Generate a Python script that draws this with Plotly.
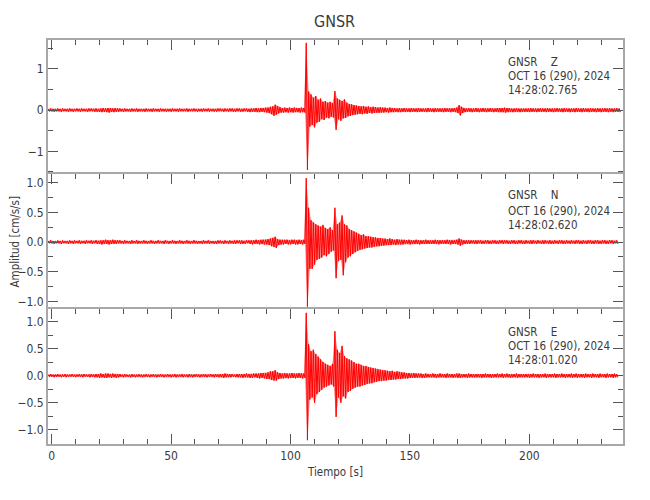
import plotly.graph_objects as go
from plotly.subplots import make_subplots

# ---------------- data ----------------
STATION = "GNSR"
COMPONENTS = ["Z", "N", "E"]
DATES = ["OCT 16 (290), 2024"] * 3
START_TIMES = ["14:28:02.765", "14:28:02.620", "14:28:01.020"]

# Waveform peaks: positive peak at T0 + k*DT, following trough half a step later (cm/s/s)
T0 = -1.4
DT = 1.0

z_hi = [
    0.03, 0.04, 0.03, 0.03, 0.04, 0.03, 0.04, 0.03, 0.03, 0.04,
    0.03, 0.03, 0.04, 0.03, 0.04, 0.03, 0.03, 0.04, 0.04, 0.03,
    0.04, 0.03, 0.04, 0.05, 0.04, 0.05, 0.05, 0.04, 0.05, 0.04,
    0.04, 0.03, 0.04, 0.03, 0.03, 0.04, 0.03, 0.04, 0.03, 0.03,
    0.03, 0.04, 0.03, 0.03, 0.04, 0.03, 0.03, 0.04, 0.03, 0.03,
    0.03, 0.03, 0.04, 0.03, 0.03, 0.04, 0.03, 0.03, 0.04, 0.03,
    0.03, 0.04, 0.03, 0.03, 0.03, 0.04, 0.03, 0.04, 0.03, 0.03,
    0.03, 0.04, 0.04, 0.03, 0.04, 0.03, 0.04, 0.04, 0.03, 0.04,
    0.04, 0.03, 0.04, 0.04, 0.03, 0.04, 0.04, 0.05, 0.04, 0.05,
    0.05, 0.06, 0.06, 0.08, 0.09, 0.13, 0.10, 0.07, 0.05, 0.06,
    0.05, 0.06, 0.05, 0.06, 0.05, 0.05, 0.06, 0.05, 1.63, 0.45,
    0.38, 0.30, 0.34, 0.25, 0.28, 0.20, 0.22, 0.18, 0.20, 0.17,
    0.46, 0.28, 0.25, 0.22, 0.26, 0.18, 0.15, 0.14, 0.12, 0.11,
    0.10, 0.09, 0.10, 0.08, 0.09, 0.07, 0.08, 0.07, 0.06, 0.07,
    0.06, 0.06, 0.05, 0.06, 0.05, 0.05, 0.04, 0.05, 0.04, 0.05,
    0.04, 0.04, 0.05, 0.04, 0.04, 0.05, 0.04, 0.04, 0.04, 0.05,
    0.04, 0.04, 0.05, 0.04, 0.04, 0.04, 0.05, 0.04, 0.04, 0.04,
    0.05, 0.06, 0.12, 0.08, 0.05, 0.04, 0.05, 0.04, 0.04, 0.05,
    0.04, 0.04, 0.05, 0.04, 0.04, 0.05, 0.04, 0.04, 0.05, 0.05,
    0.05, 0.06, 0.05, 0.05, 0.04, 0.04, 0.05, 0.04, 0.04, 0.04,
    0.04, 0.04, 0.05, 0.04, 0.04, 0.04, 0.05, 0.04, 0.04, 0.05,
    0.04, 0.04, 0.04, 0.05, 0.04, 0.04, 0.05, 0.04, 0.04, 0.04,
    0.04, 0.05, 0.04, 0.04, 0.05, 0.04, 0.04, 0.05, 0.04, 0.04,
    0.05, 0.04, 0.04, 0.05, 0.04, 0.05, 0.04, 0.04, 0.05, 0.04,
]
z_lo = [
    -0.03, -0.03, -0.04, -0.03, -0.03, -0.04, -0.03, -0.03, -0.04, -0.03,
    -0.04, -0.03, -0.03, -0.04, -0.03, -0.03, -0.04, -0.03, -0.03, -0.04,
    -0.04, -0.04, -0.05, -0.04, -0.05, -0.06, -0.04, -0.05, -0.04, -0.04,
    -0.03, -0.04, -0.03, -0.03, -0.04, -0.03, -0.03, -0.04, -0.03, -0.03,
    -0.04, -0.03, -0.03, -0.04, -0.03, -0.03, -0.04, -0.03, -0.03, -0.04,
    -0.03, -0.04, -0.03, -0.03, -0.04, -0.03, -0.03, -0.03, -0.04, -0.03,
    -0.03, -0.03, -0.04, -0.03, -0.04, -0.03, -0.03, -0.04, -0.03, -0.04,
    -0.04, -0.03, -0.03, -0.04, -0.03, -0.04, -0.03, -0.04, -0.04, -0.03,
    -0.04, -0.04, -0.03, -0.04, -0.05, -0.04, -0.04, -0.05, -0.05, -0.04,
    -0.05, -0.06, -0.07, -0.10, -0.14, -0.11, -0.08, -0.06, -0.06, -0.05,
    -0.06, -0.05, -0.06, -0.05, -0.05, -0.06, -0.05, -0.06, -1.45, -0.40,
    -0.36, -0.42, -0.30, -0.28, -0.22, -0.24, -0.18, -0.20, -0.16, -0.18,
    -0.48, -0.22, -0.26, -0.20, -0.19, -0.15, -0.14, -0.12, -0.11, -0.10,
    -0.09, -0.10, -0.08, -0.09, -0.07, -0.08, -0.07, -0.06, -0.07, -0.06,
    -0.06, -0.05, -0.06, -0.05, -0.05, -0.04, -0.05, -0.05, -0.04, -0.04,
    -0.04, -0.05, -0.04, -0.04, -0.05, -0.04, -0.04, -0.04, -0.05, -0.04,
    -0.04, -0.05, -0.04, -0.04, -0.04, -0.05, -0.04, -0.04, -0.05, -0.04,
    -0.05, -0.07, -0.13, -0.07, -0.05, -0.04, -0.04, -0.05, -0.04, -0.04,
    -0.05, -0.04, -0.04, -0.05, -0.04, -0.04, -0.05, -0.04, -0.05, -0.05,
    -0.05, -0.06, -0.05, -0.04, -0.05, -0.04, -0.04, -0.05, -0.04, -0.04,
    -0.04, -0.05, -0.04, -0.04, -0.05, -0.04, -0.04, -0.04, -0.05, -0.04,
    -0.04, -0.05, -0.04, -0.04, -0.04, -0.05, -0.04, -0.04, -0.05, -0.04,
    -0.05, -0.04, -0.04, -0.05, -0.04, -0.04, -0.05, -0.04, -0.04, -0.05,
    -0.04, -0.05, -0.04, -0.04, -0.05, -0.04, -0.05, -0.04, -0.04, -0.05,
]

n_hi = [
    0.02, 0.03, 0.02, 0.02, 0.03, 0.02, 0.03, 0.02, 0.02, 0.03,
    0.02, 0.03, 0.02, 0.03, 0.02, 0.02, 0.03, 0.02, 0.03, 0.02,
    0.03, 0.02, 0.03, 0.03, 0.04, 0.03, 0.03, 0.04, 0.03, 0.03,
    0.03, 0.02, 0.03, 0.02, 0.02, 0.03, 0.02, 0.03, 0.02, 0.02,
    0.03, 0.02, 0.02, 0.03, 0.02, 0.02, 0.03, 0.02, 0.02, 0.03,
    0.02, 0.02, 0.03, 0.02, 0.02, 0.03, 0.02, 0.02, 0.03, 0.02,
    0.02, 0.03, 0.02, 0.02, 0.02, 0.03, 0.02, 0.03, 0.02, 0.02,
    0.02, 0.03, 0.03, 0.02, 0.03, 0.02, 0.03, 0.02, 0.03, 0.03,
    0.03, 0.03, 0.02, 0.03, 0.03, 0.03, 0.03, 0.04, 0.03, 0.04,
    0.04, 0.04, 0.05, 0.06, 0.07, 0.09, 0.05, 0.04, 0.04, 0.04,
    0.04, 0.03, 0.04, 0.04, 0.03, 0.04, 0.03, 0.04, 1.08, 0.58,
    0.37, 0.33, 0.30, 0.28, 0.26, 0.29, 0.24, 0.22, 0.25, 0.20,
    0.58, 0.30, 0.33, 0.45, 0.30, 0.28, 0.22, 0.20, 0.18, 0.16,
    0.14, 0.12, 0.13, 0.10, 0.10, 0.09, 0.08, 0.08, 0.07, 0.07,
    0.06, 0.06, 0.05, 0.06, 0.05, 0.04, 0.05, 0.04, 0.04, 0.04,
    0.03, 0.04, 0.03, 0.03, 0.04, 0.03, 0.03, 0.03, 0.04, 0.03,
    0.03, 0.03, 0.04, 0.03, 0.03, 0.03, 0.03, 0.04, 0.03, 0.03,
    0.03, 0.04, 0.06, 0.04, 0.03, 0.03, 0.03, 0.03, 0.03, 0.03,
    0.03, 0.03, 0.02, 0.03, 0.03, 0.02, 0.03, 0.03, 0.02, 0.03,
    0.03, 0.03, 0.03, 0.02, 0.03, 0.03, 0.02, 0.03, 0.03, 0.02,
    0.03, 0.02, 0.03, 0.03, 0.02, 0.03, 0.02, 0.03, 0.03, 0.02,
    0.03, 0.02, 0.03, 0.02, 0.03, 0.03, 0.02, 0.03, 0.02, 0.03,
    0.02, 0.03, 0.03, 0.02, 0.03, 0.02, 0.03, 0.03, 0.02, 0.03,
    0.03, 0.02, 0.03, 0.03, 0.02, 0.03, 0.03, 0.02, 0.03,
]
n_lo = [
    -0.02, -0.02, -0.03, -0.02, -0.02, -0.03, -0.02, -0.02, -0.03, -0.02,
    -0.03, -0.02, -0.02, -0.03, -0.02, -0.03, -0.02, -0.02, -0.03, -0.02,
    -0.03, -0.03, -0.04, -0.03, -0.03, -0.04, -0.03, -0.03, -0.03, -0.02,
    -0.02, -0.03, -0.02, -0.02, -0.03, -0.02, -0.02, -0.03, -0.02, -0.02,
    -0.02, -0.03, -0.02, -0.02, -0.03, -0.02, -0.02, -0.02, -0.03, -0.02,
    -0.03, -0.02, -0.02, -0.03, -0.02, -0.02, -0.03, -0.02, -0.02, -0.03,
    -0.02, -0.02, -0.03, -0.02, -0.03, -0.02, -0.02, -0.03, -0.02, -0.03,
    -0.03, -0.02, -0.02, -0.03, -0.02, -0.03, -0.02, -0.03, -0.03, -0.02,
    -0.03, -0.03, -0.03, -0.02, -0.03, -0.04, -0.03, -0.03, -0.04, -0.03,
    -0.04, -0.04, -0.05, -0.07, -0.08, -0.10, -0.05, -0.04, -0.04, -0.03,
    -0.04, -0.04, -0.03, -0.04, -0.04, -0.03, -0.04, -0.03, -1.09, -0.45,
    -0.45, -0.38, -0.30, -0.28, -0.26, -0.22, -0.24, -0.20, -0.16, -0.14,
    -0.61, -0.32, -0.30, -0.56, -0.34, -0.26, -0.24, -0.20, -0.17, -0.15,
    -0.13, -0.12, -0.11, -0.10, -0.09, -0.09, -0.08, -0.07, -0.07, -0.06,
    -0.06, -0.05, -0.05, -0.05, -0.04, -0.05, -0.04, -0.04, -0.04, -0.03,
    -0.03, -0.04, -0.03, -0.03, -0.03, -0.04, -0.03, -0.03, -0.03, -0.03,
    -0.03, -0.03, -0.03, -0.04, -0.03, -0.03, -0.03, -0.03, -0.04, -0.03,
    -0.03, -0.04, -0.06, -0.04, -0.03, -0.03, -0.03, -0.02, -0.03, -0.03,
    -0.02, -0.03, -0.03, -0.02, -0.03, -0.03, -0.02, -0.03, -0.03, -0.02,
    -0.03, -0.02, -0.03, -0.03, -0.02, -0.03, -0.03, -0.02, -0.03, -0.03,
    -0.02, -0.03, -0.03, -0.02, -0.03, -0.02, -0.03, -0.03, -0.02, -0.03,
    -0.03, -0.03, -0.02, -0.03, -0.02, -0.03, -0.03, -0.02, -0.03, -0.02,
    -0.03, -0.02, -0.03, -0.03, -0.02, -0.03, -0.02, -0.03, -0.03, -0.02,
    -0.03, -0.03, -0.02, -0.03, -0.03, -0.02, -0.03, -0.02, -0.03,
]

e_hi = [
    0.02, 0.03, 0.02, 0.02, 0.03, 0.02, 0.02, 0.03, 0.02, 0.02,
    0.03, 0.02, 0.02, 0.03, 0.02, 0.03, 0.02, 0.02, 0.03, 0.02,
    0.03, 0.03, 0.04, 0.03, 0.04, 0.04, 0.03, 0.04, 0.03, 0.03,
    0.03, 0.02, 0.03, 0.02, 0.02, 0.03, 0.02, 0.02, 0.03, 0.02,
    0.02, 0.03, 0.02, 0.02, 0.03, 0.02, 0.02, 0.03, 0.02, 0.02,
    0.03, 0.02, 0.02, 0.03, 0.02, 0.02, 0.03, 0.02, 0.02, 0.03,
    0.02, 0.02, 0.03, 0.02, 0.02, 0.03, 0.02, 0.02, 0.03, 0.02,
    0.03, 0.02, 0.03, 0.03, 0.04, 0.03, 0.03, 0.03, 0.02, 0.03,
    0.03, 0.03, 0.03, 0.04, 0.03, 0.03, 0.04, 0.04, 0.04, 0.05,
    0.05, 0.05, 0.06, 0.08, 0.08, 0.10, 0.06, 0.05, 0.04, 0.05,
    0.04, 0.04, 0.05, 0.04, 0.04, 0.05, 0.04, 0.04, 1.16, 0.58,
    0.45, 0.48, 0.40, 0.35, 0.30, 0.25, 0.22, 0.20, 0.18, 0.22,
    0.82, 0.48, 0.42, 0.55, 0.36, 0.32, 0.30, 0.28, 0.25, 0.22,
    0.22, 0.20, 0.18, 0.18, 0.16, 0.15, 0.14, 0.13, 0.12, 0.11,
    0.10, 0.10, 0.09, 0.08, 0.09, 0.07, 0.08, 0.07, 0.06, 0.06,
    0.05, 0.05, 0.04, 0.05, 0.04, 0.04, 0.04, 0.03, 0.04, 0.03,
    0.03, 0.04, 0.03, 0.03, 0.04, 0.03, 0.03, 0.04, 0.03, 0.03,
    0.03, 0.04, 0.04, 0.03, 0.03, 0.03, 0.04, 0.03, 0.03, 0.03,
    0.03, 0.03, 0.03, 0.04, 0.03, 0.03, 0.03, 0.03, 0.04, 0.03,
    0.04, 0.03, 0.04, 0.03, 0.03, 0.03, 0.04, 0.03, 0.03, 0.03,
    0.03, 0.03, 0.03, 0.04, 0.03, 0.03, 0.03, 0.03, 0.04, 0.03,
    0.03, 0.03, 0.04, 0.03, 0.03, 0.04, 0.03, 0.03, 0.03, 0.04,
    0.03, 0.04, 0.03, 0.03, 0.03, 0.04, 0.03, 0.03, 0.04, 0.03,
    0.03, 0.04, 0.03, 0.03, 0.04, 0.03, 0.03, 0.04, 0.03,
]
e_lo = [
    -0.02, -0.02, -0.03, -0.02, -0.02, -0.03, -0.02, -0.03, -0.02, -0.02,
    -0.02, -0.03, -0.02, -0.02, -0.03, -0.02, -0.02, -0.03, -0.02, -0.03,
    -0.03, -0.04, -0.03, -0.04, -0.04, -0.03, -0.04, -0.03, -0.04, -0.03,
    -0.02, -0.03, -0.02, -0.02, -0.03, -0.02, -0.03, -0.02, -0.02, -0.03,
    -0.02, -0.02, -0.03, -0.02, -0.02, -0.03, -0.02, -0.02, -0.03, -0.02,
    -0.02, -0.03, -0.02, -0.03, -0.02, -0.02, -0.03, -0.02, -0.03, -0.02,
    -0.03, -0.02, -0.02, -0.03, -0.02, -0.02, -0.03, -0.02, -0.02, -0.03,
    -0.02, -0.03, -0.03, -0.04, -0.03, -0.03, -0.03, -0.02, -0.03, -0.03,
    -0.03, -0.04, -0.03, -0.03, -0.04, -0.04, -0.03, -0.04, -0.05, -0.04,
    -0.05, -0.06, -0.06, -0.08, -0.09, -0.09, -0.06, -0.05, -0.05, -0.04,
    -0.05, -0.04, -0.04, -0.05, -0.04, -0.04, -0.05, -0.04, -1.19, -0.44,
    -0.40, -0.50, -0.34, -0.30, -0.26, -0.22, -0.20, -0.18, -0.16, -0.20,
    -0.76, -0.40, -0.50, -0.38, -0.42, -0.30, -0.28, -0.24, -0.22, -0.20,
    -0.20, -0.18, -0.17, -0.15, -0.14, -0.14, -0.12, -0.11, -0.10, -0.10,
    -0.09, -0.09, -0.08, -0.08, -0.07, -0.07, -0.06, -0.06, -0.05, -0.05,
    -0.05, -0.04, -0.04, -0.04, -0.04, -0.03, -0.04, -0.04, -0.03, -0.03,
    -0.03, -0.03, -0.04, -0.03, -0.03, -0.03, -0.04, -0.03, -0.03, -0.04,
    -0.03, -0.04, -0.04, -0.03, -0.03, -0.04, -0.03, -0.03, -0.03, -0.03,
    -0.03, -0.04, -0.03, -0.03, -0.03, -0.04, -0.03, -0.03, -0.03, -0.03,
    -0.04, -0.03, -0.03, -0.04, -0.03, -0.03, -0.04, -0.03, -0.03, -0.03,
    -0.03, -0.04, -0.03, -0.03, -0.03, -0.04, -0.03, -0.03, -0.04, -0.03,
    -0.03, -0.03, -0.04, -0.03, -0.03, -0.03, -0.04, -0.03, -0.03, -0.04,
    -0.03, -0.04, -0.03, -0.03, -0.04, -0.03, -0.03, -0.04, -0.03, -0.03,
    -0.04, -0.03, -0.03, -0.04, -0.03, -0.03, -0.04, -0.03, -0.03,
]

X_RANGE = [-1.5, 239.2]
Y_RANGES = [[-1.55, 1.70], [-1.13, 1.15], [-1.26, 1.23]]
X_TICKS = [0, 50, 100, 150, 200]

# ---------------- style / layout ----------------
FONT = "DejaVu Sans Condensed, DejaVu Sans, sans-serif"
TXT = "#3a3a3a"
AXC = "#a8a8a8"
TKC = "#555555"
RED = "#ff0000"

# The page body adds an 8px offset; all reference-pixel positions are shifted by it.
OFF = 8
W_PX, H_PX = 650 - OFF, 500 - OFF
# plot area in reference pixels
RL, RR, RT, RB = 48, 623.3, 40, 444
L, R, T, B = RL - OFF, RR - OFF, RT - OFF, RB - OFF


def px(x):
    return (x - RL) / (RR - RL)


def py(y):
    return (RB - y) / (RB - RT)


fig = make_subplots(rows=3, cols=1, shared_xaxes=True, vertical_spacing=0)

series = [(z_hi, z_lo), (n_hi, n_lo), (e_hi, e_lo)]
for r, (hi, lo) in enumerate(series, start=1):
    n = min(len(hi), len(lo))
    xs, ys = [], []
    up_x, up_y, dn_x, dn_y = [], [], [], []
    for k in range(n):
        t = T0 + k * DT
        xs += [t, t + DT / 2]
        ys += [hi[k], lo[k]]
        up_x.append(t)
        up_y.append(hi[k])
        dn_x.append(t + DT / 2)
        dn_y.append(lo[k])
    # dense band between the peak and trough envelopes
    fig.add_trace(
        go.Scatter(x=up_x + dn_x[::-1], y=up_y + dn_y[::-1], mode="lines",
                   fill="toself", fillcolor="rgba(255,0,0,0.45)",
                   line=dict(width=0, color=RED), showlegend=False, hoverinfo="skip"),
        row=r, col=1,
    )
    fig.add_trace(
        go.Scatter(x=xs, y=ys, mode="lines", line=dict(color=RED, width=1),
                   showlegend=False, hoverinfo="skip"),
        row=r, col=1,
    )

bounds = [(40, 174), (174, 309), (309, 444)]
for i, (top, bot) in enumerate(bounds, start=1):
    ykey = "yaxis" if i == 1 else f"yaxis{i}"
    xkey = "xaxis" if i == 1 else f"xaxis{i}"
    dtick = 1 if i == 1 else 0.5
    mdtick = 0.5 if i == 1 else 0.25
    fig.layout[ykey].update(
        domain=[py(bot), py(top)],
        range=Y_RANGES[i - 1],
        dtick=dtick, tick0=0,
        tickformat="d" if i == 1 else ".1f",
        showgrid=False, zeroline=False, automargin=False,
        showline=True, linecolor=AXC, linewidth=2, mirror="ticks",
        ticks="inside", ticklen=10, tickwidth=1, tickcolor=TKC,
        minor=dict(dtick=mdtick, tick0=0, ticks="inside", ticklen=5, tickcolor=TKC, showgrid=False),
        tickfont=dict(family=FONT, size=12, color=TXT),
    )
    xcommon = dict(
        range=X_RANGE, showgrid=False, zeroline=False, automargin=False,
        showline=True, linecolor=AXC, linewidth=2,
        tickvals=X_TICKS,
        ticks="inside", ticklen=10, tickwidth=1, tickcolor=TKC,
        minor=dict(dtick=10, tick0=0, ticks="inside", ticklen=5, tickcolor=TKC, showgrid=False),
        tickfont=dict(family=FONT, size=12, color=TXT),
    )
    if i < 3:
        fig.layout[xkey].update(side="top", showticklabels=False, mirror=False, **xcommon)
    else:
        fig.layout[xkey].update(side="bottom", showticklabels=True, mirror="ticks", **xcommon)

ann = []
ann.append(dict(text=STATION, x=px(335), y=py(21.7), xref="paper", yref="paper",
                showarrow=False, xanchor="center", yanchor="middle",
                font=dict(family=FONT, size=16, color=TXT)))
ann.append(dict(text="Amplitud [cm/s/s]", x=px(14), y=py(241.5), xref="paper", yref="paper",
                showarrow=False, xanchor="center", yanchor="middle", textangle=-90,
                font=dict(family=FONT, size=11.5, color=TXT)))
ann.append(dict(text="Tiempo [s]", x=px(335.5), y=py(471.7), xref="paper", yref="paper",
                showarrow=False, xanchor="center", yanchor="middle",
                font=dict(family=FONT, size=11.5, color=TXT)))

label_rows = [(61.7, 75.7, 90.0), (195.0, 211.0, 225.0), (331.7, 345.7, 360.0)]
for comp, date, st, ys in zip(COMPONENTS, DATES, START_TIMES, label_rows):
    lines = [STATION + "\u00a0\u00a0\u00a0\u00a0" + comp, date, st]
    for txt, yy in zip(lines, ys):
        ann.append(dict(text=txt, x=px(506.7), y=py(yy), xref="paper", yref="paper",
                        showarrow=False, xanchor="left", yanchor="middle",
                        font=dict(family=FONT, size=11.5, color=TXT)))

fig.update_layout(
    width=W_PX, height=H_PX,
    margin=dict(l=L, r=W_PX - R, t=T, b=H_PX - B),
    paper_bgcolor="white", plot_bgcolor="white",
    annotations=ann,
    showlegend=False,
)

fig.write_html("out.html")
